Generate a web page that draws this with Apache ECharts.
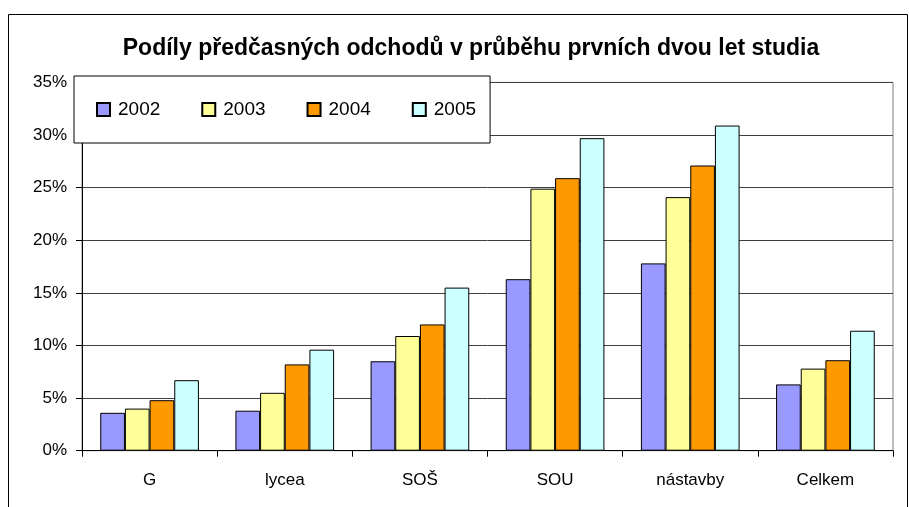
<!DOCTYPE html>
<html>
<head>
<meta charset="utf-8">
<script src="https://cdn.jsdelivr.net/npm/echarts@6/dist/echarts.min.js"></script>
<style>html,body{margin:0;padding:0;background:#fff;}#c{width:909px;height:507px;}</style>
</head>
<body>
<div id="c"></div>
<script>
const categories = ['G', 'lycea', 'SOŠ', 'SOU', 'nástavby', 'Celkem'];
const years = ['2002', '2003', '2004', '2005'];
const v2002 = [3.6, 3.8, 8.5, 16.3, 17.8, 6.3];
const v2003 = [4.0, 5.5, 10.9, 24.9, 24.1, 7.8];
const v2004 = [4.8, 8.2, 12.0, 25.9, 27.1, 8.6];
const v2005 = [6.7, 9.6, 15.5, 29.7, 30.9, 11.4];
const yTicks = [0, 5, 10, 15, 20, 25, 30, 35];
const colors = ['#9999FF', '#FFFF99', '#FF9900', '#CCFFFF'];

const values = [v2002, v2003, v2004, v2005];
const FONT = 'Liberation Sans, Arial, sans-serif';
const chart = echarts.init(document.getElementById('c'), null, {renderer: 'canvas'});
chart.setOption({
  animation: false,
  backgroundColor: '#fff',
  textStyle: {fontFamily: FONT},
  title: {
    text: 'Podíly předčasných odchodů v průběhu prvních dvou let studia',
    left: 466, textAlign: 'center', top: 32,
    textStyle: {fontSize: 23, fontWeight: 'bold', color: '#000', fontFamily: FONT}
  },
  graphic: [{
    type: 'rect', left: 6, top: 12, z: 100,
    shape: {width: 899, height: 520},
    style: {fill: 'none', stroke: '#000', lineWidth: 1}
  }],
  legend: {
    data: years,
    left: 74, top: 76,
    padding: [24, 14, 24, 22],
    itemGap: 41,
    icon: 'rect',
    itemWidth: 13, itemHeight: 13,
    backgroundColor: '#fff',
    borderColor: '#000', borderWidth: 1,
    textStyle: {fontSize: 19, color: '#000', fontFamily: FONT, padding: [0, 0, 0, 3]},
    z: 10
  },
  grid: {
    left: 82, right: 16, top: 82.4, bottom: 56.3,
    show: true, borderColor: '#808080', borderWidth: 1, backgroundColor: '#fff'
  },
  xAxis: {
    type: 'category', data: categories,
    axisLine: {lineStyle: {color: '#000', width: 1}},
    axisTick: {show: true, length: 6, lineStyle: {color: '#000'}},
    axisLabel: {fontSize: 17, color: '#000', margin: 21, fontFamily: FONT}
  },
  yAxis: {
    type: 'value', min: yTicks[0], max: yTicks[yTicks.length - 1], interval: 5,
    axisLine: {show: true, lineStyle: {color: '#000', width: 1}},
    axisTick: {show: true, length: 6, lineStyle: {color: '#000'}},
    axisLabel: {fontSize: 17, color: '#000', margin: 15, formatter: '{value}%', fontFamily: FONT},
    splitLine: {show: true, lineStyle: {color: '#404040', width: 1}}
  },
  series: years.map((y, i) => ({
    name: y, type: 'bar', data: values[i],
    barGap: '0%', barCategoryGap: '27%',
    itemStyle: {color: colors[i], borderColor: '#000', borderWidth: 1}
  }))
});
</script>
</body>
</html>
